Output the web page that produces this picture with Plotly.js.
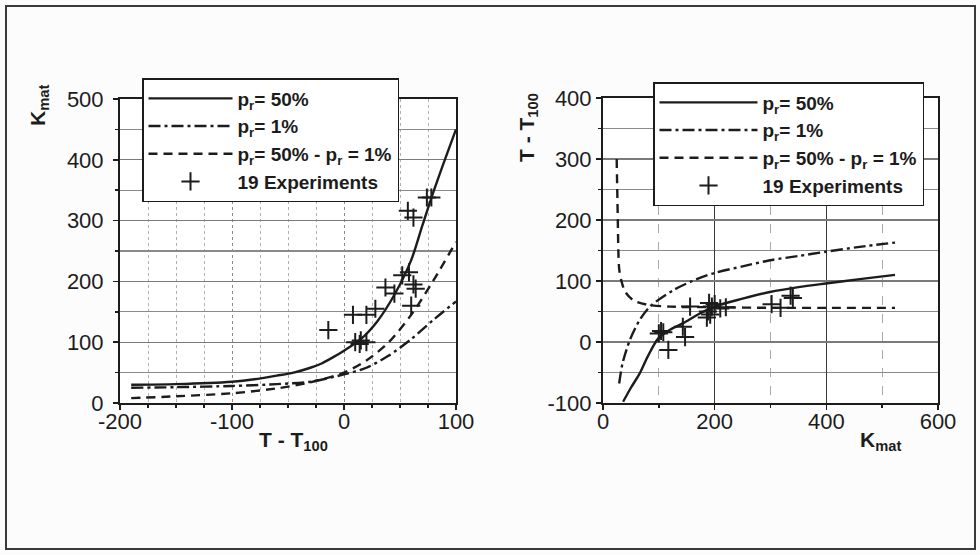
<!DOCTYPE html>
<html>
<head>
<meta charset="utf-8">
<script src="https://cdn.plot.ly/plotly-3.0.1.min.js"></script>
<style>html,body{margin:0;padding:0;background:#fff}</style>
</head>
<body>
<div id="chart" style="width:980px;height:555px"></div>
<script>
// ---- Left panel: K_mat vs T - T100 ----
const leftX50 = [-190,-150,-100,-80,-60,-45,-30,-20,-10,0,15,30,45,60,70,80,90,100];
const leftY50 = [30,31,35,39,45,50,58,65,75,86,105,135,178,235,292,348,400,450];
const leftX1 = [-190,-150,-100,-60,-30,0,20,40,60,80,100];
const leftY1 = [25,26,28,31,35,47,58,78,105,137,167];
const leftXd = [-190,-150,-100,-60,-30,0,20,40,60,80,100];
const leftYd = [8,11,16,24,34,50,70,100,145,202,265];
const leftExpX = [-14,8,20,28,10,15,20,14,37,45,52,58,62,64,60,57,62,74,78];
const leftExpY = [120,145,145,155,100,103,100,97,190,180,210,215,195,188,160,316,305,338,338];
const leftXTicks = [-200,-100,0,100];
const leftXTickText = ['-200','-100','0','100'];
const leftYTicks = [0,100,200,300,400,500];

// ---- Right panel: T - T100 vs K_mat ----
const rightX50 = [36,50,66,80,99,120,144,170,199,250,299,350,399,460,523];
const rightY50 = [-98,-75,-51,-24,6,20,31,45,58,71,82,90,96,103,110];
const rightX1 = [29,35,48,65,84,126,160,199,250,299,350,399,460,523];
const rightY1 = [-68,-35,3,35,58,85,100,113,124,134,141,148,156,163];
const rightXd = [24.5,25.5,26.5,27.5,29,33,40,55,80,120,200,300,400,523];
const rightYd = [300,250,200,150,120,100,82,68,61,58,57,56,56,56];
const rightExpX = [100,104,108,117,143,147,156,186,188,190,195,200,210,220,302,318,336,340,192];
const rightExpY = [14,18,16,-13,25,8,58,40,50,64,58,62,55,57,62,56,76,72,45];
const rightXTicks = [0,200,400,600];
const rightYTicks = [-100,0,100,200,300,400];
const rightYTickText = ['-100','0','100','200','300','400'];

const names = ['p<sub>r</sub>= 50%', 'p<sub>r</sub>= 1%', 'p<sub>r</sub>= 50% - p<sub>r</sub> = 1%', '19 Experiments'];

const FONT = 'Liberation Sans, Arial, Helvetica, sans-serif';
const INK = '#1c1c1c';
const dashDot = '12px,4px,3px,4px';
const dashed = '9px,6px';

function lineTrace(x, y, name, dash, xa, ya, lg, grp) {
  return {x, y, name, type: 'scatter', mode: 'lines', xaxis: xa, yaxis: ya, legend: lg,
    legendgroup: grp, line: {color: INK, width: 2.4, dash: dash, shape: 'spline', smoothing: 0.8}};
}
function expTrace(x, y, xa, ya, lg, grp) {
  return {x, y, name: names[3], type: 'scatter', mode: 'markers', xaxis: xa, yaxis: ya, legend: lg,
    legendgroup: grp, marker: {symbol: 'cross-thin-open', size: 13, color: INK, line: {color: INK, width: 2}}};
}

const data = [
  lineTrace(leftX50, leftY50, names[0], 'solid', 'x', 'y', 'legend', 'a1'),
  lineTrace(leftX1, leftY1, names[1], dashDot, 'x', 'y', 'legend', 'a2'),
  lineTrace(leftXd, leftYd, names[2], dashed, 'x', 'y', 'legend', 'a3'),
  expTrace(leftExpX, leftExpY, 'x', 'y', 'legend', 'a4'),
  lineTrace(rightX50, rightY50, names[0], 'solid', 'x2', 'y2', 'legend2', 'b1'),
  lineTrace(rightX1, rightY1, names[1], dashDot, 'x2', 'y2', 'legend2', 'b2'),
  lineTrace(rightXd, rightYd, names[2], dashed, 'x2', 'y2', 'legend2', 'b3'),
  expTrace(rightExpX, rightExpY, 'x2', 'y2', 'legend2', 'b4')
];

const tickFont = {family: FONT, size: 22, color: INK};
const common = {
  showline: true, linecolor: INK, linewidth: 2, mirror: true,
  ticks: 'outside', ticklen: 5, tickwidth: 1.5, tickcolor: INK,
  tickfont: tickFont, zeroline: false, showgrid: true, fixedrange: true
};

const legendStyle = {
  bgcolor: '#ffffff', bordercolor: INK, borderwidth: 1.5,
  font: {family: FONT, size: 19, color: INK, weight: 'bold'},
  xanchor: 'left', yanchor: 'top', tracegroupgap: 2,
  traceorder: 'normal'
};

const ann = (text, x, y, angle) => ({text, xref: 'paper', yref: 'paper', x: x/980, y: (555-y)/555,
  xanchor: 'center', yanchor: 'middle', showarrow: false, textangle: angle,
  font: {family: FONT, size: 21, color: INK}});

const layout = {
  width: 980, height: 555,
  margin: {l: 0, r: 0, t: 0, b: 0},
  paper_bgcolor: '#fcfcfc', plot_bgcolor: '#ffffff',
  showlegend: true,
  font: {family: FONT, color: INK},
  xaxis: Object.assign({}, common, {
    domain: [120/980, 456/980], anchor: 'y', range: [-200, 100],
    tickmode: 'array', tickvals: leftXTicks, ticktext: leftXTickText,
    ticklabelstandoff: -7,
    gridcolor: '#8a8a8a', gridwidth: 1, griddash: 'dot',
    minor: {dtick: 25, tick0: 0, showgrid: true, gridcolor: '#b0b0b0', griddash: 'dot', gridwidth: 1, ticks: 'outside', ticklen: 3, tickcolor: INK}
  }),
  yaxis: Object.assign({}, common, {
    domain: [152/555, 456/555], anchor: 'x', range: [0, 500],
    tickmode: 'array', tickvals: leftYTicks,
    ticklabelstandoff: 5,
    gridcolor: '#7a7a7a', gridwidth: 1.3,
    minor: {dtick: 50, tick0: 0, showgrid: true, gridcolor: '#8a8a8a', gridwidth: 1.2, ticks: 'outside', ticklen: 3, tickcolor: INK}
  }),
  xaxis2: Object.assign({}, common, {
    domain: [603/980, 938/980], anchor: 'y2', range: [0, 600],
    tickmode: 'array', tickvals: rightXTicks,
    ticklabelstandoff: -7,
    gridcolor: '#3a3a3a', gridwidth: 1.6,
    minor: {dtick: 100, tick0: 0, showgrid: true, gridcolor: '#aaaaaa', griddash: 'dash', gridwidth: 1, ticks: 'outside', ticklen: 3, tickcolor: INK}
  }),
  yaxis2: Object.assign({}, common, {
    domain: [152/555, 457/555], anchor: 'x2', range: [-100, 400],
    tickmode: 'array', tickvals: rightYTicks, ticktext: rightYTickText,
    gridcolor: '#7a7a7a', gridwidth: 1.3,
    minor: {dtick: 50, tick0: 0, showgrid: true, gridcolor: '#8a8a8a', gridwidth: 1.2, ticks: 'outside', ticklen: 3, tickcolor: INK}
  }),
  legend: Object.assign({}, legendStyle, {x: 142/980, y: (555-78)/555, itemwidth: 84}),
  legend2: Object.assign({}, legendStyle, {x: 653/980, y: (555-82)/555, itemwidth: 98}),
  shapes: [
    {type: 'rect', xref: 'paper', yref: 'paper', x0: 6/980, x1: 975/980, y0: 6/555, y1: 549/555,
     line: {color: '#3a3a3a', width: 2}, layer: 'below'}
  ],
  annotations: [
    ann('<b>K<sub>mat</sub></b>', 39, 106, -90),
    ann('<b>T - T<sub>100</sub></b>', 293, 441, 0),
    ann('<b>T - T<sub>100</sub></b>', 528, 128, -90),
    ann('<b>K<sub>mat</sub></b>', 880, 441, 0)
  ]
};

Plotly.newPlot('chart', data, layout, {displayModeBar: false, staticPlot: true});
</script>
</body>
</html>
